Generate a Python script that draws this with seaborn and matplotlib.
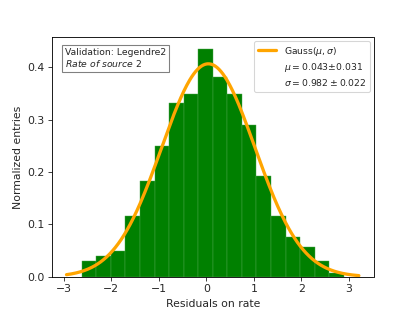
import numpy as np
import matplotlib
matplotlib.use("Agg")
import matplotlib.pyplot as plt
from matplotlib.lines import Line2D
import seaborn as sns

# ── DATA ──────────────────────────────────────────────────────────────────
bin_edges = [-2.617, -2.311, -2.005, -1.699, -1.393, -1.087, -0.781, -0.475,
             -0.169, 0.137, 0.443, 0.749, 1.055, 1.361, 1.667, 1.973,
             2.279, 2.585, 2.891]
density = [0.030, 0.040, 0.050, 0.116, 0.183, 0.249, 0.332, 0.348, 0.435,
           0.381, 0.349, 0.289, 0.192, 0.116, 0.076, 0.057, 0.030, 0.007]

fit_mu, fit_mu_err = 0.043, 0.031
fit_sigma, fit_sigma_err = 0.982, 0.022
fit_range = (-2.94, 3.21)

info_title = "Validation: Legendre2"
info_sub = r"$\mathit{Rate\ of\ source}$ 2"

# ── PLOT ──────────────────────────────────────────────────────────────────
sns.set_style("ticks")
plt.rcParams['font.family'] = ['DejaVu Sans']

DPI = 78
fig, ax = plt.subplots(figsize=(415 / DPI, 311 / DPI), dpi=DPI)
fig.subplots_adjust(left=0.125, right=0.9, bottom=0.11, top=0.88)

centers = [(a + b) / 2 for a, b in zip(bin_edges[:-1], bin_edges[1:])]
sns.histplot(x=centers, weights=density, bins=bin_edges, stat='count',
             color='green', alpha=1.0, edgecolor='#4ca64c', linewidth=0.4,
             ax=ax)

# fitted Gaussian from the parameters in the legend
xs = np.linspace(fit_range[0], fit_range[1], 300)
ys = np.exp(-0.5 * ((xs - fit_mu) / fit_sigma) ** 2) / (fit_sigma * np.sqrt(2 * np.pi))
ax.plot(xs, ys, color='orange', lw=3)

ax.set_xlabel('Residuals on rate', fontsize=10)
ax.set_ylabel('Normalized entries', fontsize=10)
ax.set_xticks([-3, -2, -1, 0, 1, 2, 3])
ax.set_yticks([0.0, 0.1, 0.2, 0.3, 0.4])
ax.margins(x=0.05, y=0.05)
ax.set_ylim(0, None)
ax.tick_params(labelsize=10, length=3.5, width=0.8)
for s in ax.spines.values():
    s.set_linewidth(0.8)
    s.set_color('black')

handles = [Line2D([], [], color='orange', lw=3),
           Line2D([], [], color='none'),
           Line2D([], [], color='none')]
labels = [r'Gauss($\mu,\sigma$)',
          r'$\mu = %.3f{\pm}%.3f$' % (fit_mu, fit_mu_err),
          r'$\sigma = %.3f \pm %.3f$' % (fit_sigma, fit_sigma_err)]
ax.legend(handles, labels, loc='upper right', fontsize=8.5,
          handlelength=2.0, labelspacing=0.35, borderaxespad=0.4)

ax.text(0.04, 0.955, info_title + "\n" + info_sub, transform=ax.transAxes,
        va='top', ha='left', fontsize=8.5, linespacing=1.1,
        bbox=dict(boxstyle='square,pad=0.3', facecolor='white', edgecolor='gray'))

plt.savefig('out.png', dpi=DPI)
